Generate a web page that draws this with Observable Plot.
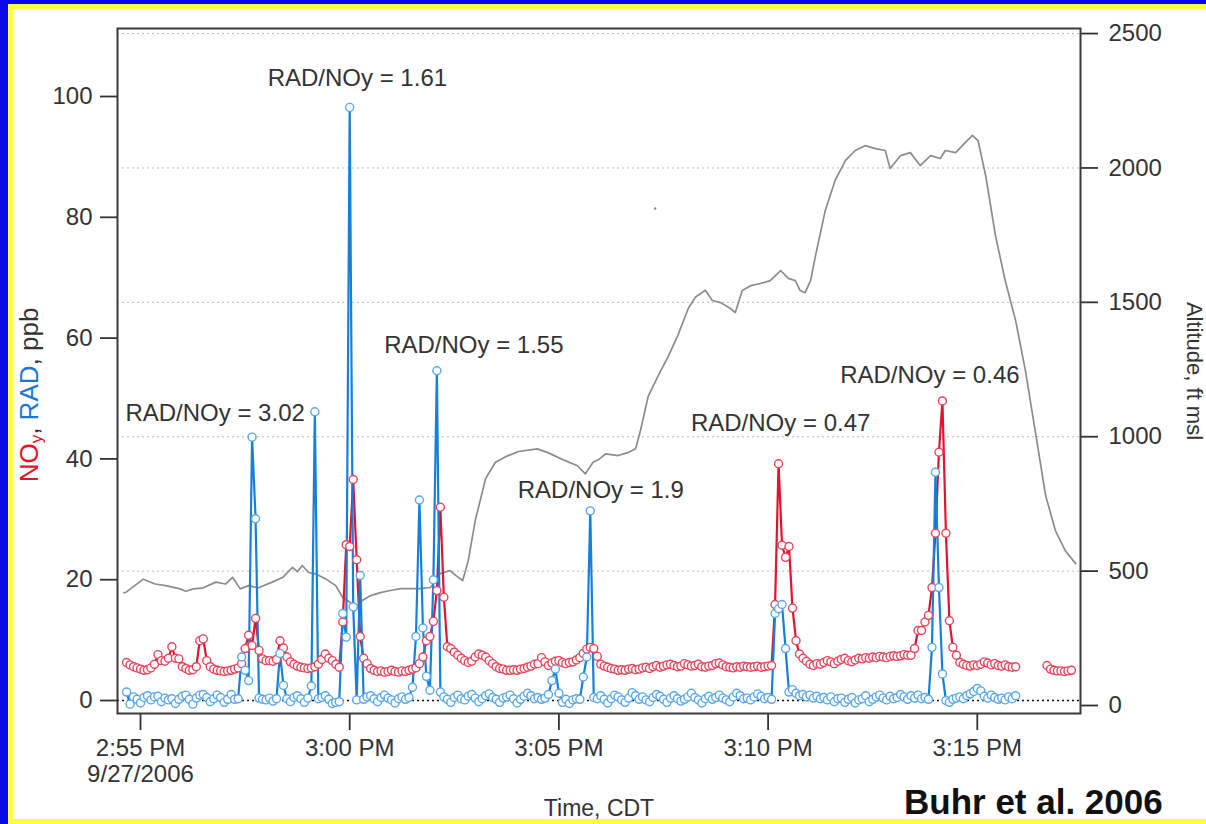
<!DOCTYPE html>
<html>
<head>
<meta charset="utf-8">
<script src="https://cdn.jsdelivr.net/npm/d3@7"></script>
<script src="https://cdn.jsdelivr.net/npm/@observablehq/plot@0.6"></script>
<style>
  html, body { margin: 0; padding: 0; }
  body {
    width: 1206px; height: 824px; overflow: hidden; position: relative;
    background: #0a0ae6;
    font-family: "Liberation Sans", Arial, sans-serif;
  }
  #panel {
    position: absolute; left: 8px; top: 4px; width: 1198px; height: 820px;
    box-sizing: border-box; background: #fff;
    border: 5px solid #ffff3c; border-right: none;
  }
  #chart { position: absolute; left: 0; top: 0; }
  #ylab {
    position: absolute; left: 30px; top: 395px; white-space: nowrap;
    transform: translate(-50%, -50%) rotate(-90deg);
    font-size: 26px; color: #333;
  }
  #ylab .noy { color: #e8102c; }
  #ylab .rad { color: #1a78d2; }
  #ylab sub { font-size: 17px; vertical-align: -4px; }
  #credit {
    position: absolute; left: 904px; top: 782px; white-space: nowrap;
    font-weight: bold; font-size: 35px; color: #111;
  }
</style>
</head>
<body>
<div id="panel"></div>
<div id="chart"></div>
<div id="ylab"><span class="noy">NO<sub>y</sub></span>, <span class="rad">RAD</span>, ppb</div>
<div id="credit">Buhr et al. 2006</div>
<script>
// NOy and RAD mixing ratios (ppb), one sample every 5 s starting 2:54:40 PM CDT
const sampleStart = "2006-09-27T14:54:40Z";
const sampleStepSec = 5;

const noy = [
  6.3, 5.9, 5.6, 5.4, 5.2, 5.0, 5.1, 5.4, 6.0, 7.6,
  6.6, 6.5, 7.0, 8.9, 7.0, 6.9, 5.6, 5.3, 5.0, 5.1,
  5.6, 9.9, 10.2, 6.6, 5.6, 5.2, 5.0, 4.9, 4.8, 4.9,
  5.0, 5.2, 5.4, 6.1, 8.6, 10.8, 9.1, 13.6, 8.3, 6.9,
  6.6, 6.6, 6.5, 6.8, 9.9, 8.7, 7.2, 6.4, 6.0, 5.7,
  5.5, 5.4, 5.3, 5.4, 5.6, 6.0, 6.8, 7.7, 7.0, 6.6,
  6.0, 5.5, 13.0, 25.8, 25.5, 36.6, 23.3, 10.6, 7.0, 6.1,
  5.3, 5.0, 4.8, 4.9, 4.7, 4.8, 5.0, 4.8, 4.7, 4.9,
  4.8, 5.0, 5.2, 5.4, 6.1, 7.2, 9.9, 10.6, 13.1, 18.2,
  32.0, 17.1, 8.9, 8.6, 8.0, 7.5, 7.0, 6.6, 6.3, 6.5,
  7.2, 7.7, 7.5, 7.2, 6.6, 6.1, 5.6, 5.3, 5.2, 5.0,
  5.0, 5.1, 5.0, 5.2, 5.3, 5.5, 5.7, 6.0, 6.1, 7.1,
  6.4, 5.8, 6.2, 6.5, 6.6, 6.3, 6.1, 6.3, 6.4, 6.7,
  7.1, 7.8, 8.5, 8.8, 8.6, 7.3, 6.0, 5.7, 5.5, 5.3,
  5.2, 5.0, 5.1, 5.0, 5.2, 5.3, 5.1, 5.2, 5.4, 5.5,
  5.3, 5.6, 5.8, 5.5, 5.7, 5.9, 6.0, 5.8, 5.6, 5.7,
  6.1, 5.9, 5.7, 5.8, 6.0, 5.6, 5.5, 5.7, 5.8, 6.1,
  6.2, 5.9, 5.6, 5.5, 5.4, 5.6, 5.5, 5.7, 5.6, 5.5,
  5.6, 5.7, 5.5, 5.6, 5.7, 5.8, 15.9, 39.2, 25.7, 23.7,
  25.5, 15.3, 9.9, 7.7, 7.0, 6.5, 6.0, 5.8, 6.1, 6.0,
  6.3, 6.6, 6.4, 6.1, 6.5, 6.8, 7.0, 6.6, 6.4, 6.7,
  7.0, 6.9, 7.1, 7.0, 7.2, 7.1, 7.3, 7.2, 7.1, 7.3,
  7.4, 7.3, 7.4, 7.6, 7.5, 7.5, 8.6, 11.6, 11.6, 13.0,
  14.1, 18.7, 27.7, 41.1, 49.6, 27.7, 13.2, 8.8, 7.5, 6.3,
  6.0, 5.8, 5.7, 5.9, 5.8, 6.0, 6.4, 6.2, 5.9, 6.1,
  5.8, 5.7, 5.9, 5.6, 5.5, 5.6, null, null, null, null,
  null, null, null, null, 5.8, 5.2, 5.0, 4.9, 4.9, 4.8,
  4.9, 5.0
];

const rad = [
  1.4, -0.6, 0.6, 0.2, -0.4, 0.5, 0.8, 0.1, 0.6, 0.7,
  -0.2, 0.4, 0.1, 0.3, -0.5, 0.2, 0.7, 0.9, 0.2, -0.6,
  0.4, 0.9, 1.0, 0.5, -0.2, 0.3, 0.9, 0.5, -0.3, 0.2,
  1.0, 0.2, 0.3, 7.2, 5.0, 3.3, 43.6, 30.1, 0.4, 0.2,
  0.1, 0.4, -0.1, 0.3, 7.8, 2.5, 0.3, -0.2, 0.5, 0.8,
  0.3, -0.3, 0.4, 2.4, 47.8, 0.3, 0.5, 0.8, 0.2, -0.5,
  -0.3, -0.2, 14.4, 10.5, 98.2, 15.5, 0.1, 20.7, 0.2, 0.6,
  0.8, 0.3, -0.2, 0.5, 0.9, 0.4, 0.1, -0.4, 0.3, 0.6,
  0.2, 0.5, 2.2, 10.6, 33.2, 12.0, 4.0, 1.7, 20.0, 54.6,
  1.4, 0.6, 0.2, -0.3, 0.5, 0.9, 0.3, 0.1, 0.7, 1.0,
  0.4, -0.2, 0.3, 0.8, 1.1, 0.5, 0.2, -0.3, 0.4, 0.6,
  0.9, 0.3, -0.4, 0.2, 0.7, 1.2, 0.8, 0.3, 0.5, 0.2,
  0.4, 1.0, 3.3, 5.2, 1.2, -0.3, 0.2, -0.5, 0.1, 0.3,
  0.2, 3.9, 7.2, 31.4, 0.5, 0.3, 0.8, 0.2, -0.4, 0.3,
  0.9, 0.6, 0.1, -0.3, 0.4, 1.3, 0.8, 0.2, 0.6, 0.1,
  -0.2, 0.5, 1.0, 0.7, 0.2, -0.3, 0.4, 0.8, 0.3, -0.1,
  0.2, 0.6, 1.2, 0.5, 0.1, -0.4, 0.3, 0.7, 0.2, 0.5,
  0.9, 0.4, 0.1, -0.2, 0.6, 1.2, 0.8, 0.3, 0.4, 0.1,
  0.6, 1.1, 0.7, 0.3, 0.5, 0.2, 14.4, 15.2, 15.9, 8.6,
  1.4, 1.8, 1.2, 0.8, 1.0, 0.6, 0.9, 0.4, 0.7, 0.3,
  0.5, 0.1, 0.6, -0.2, 0.3, 0.4, -0.3, 0.2, 0.5, -0.4,
  0.1, 0.3, 0.8, -0.2, 0.2, 0.6, 0.9, 0.4, 0.1, 0.7,
  0.3, 0.5, 1.0, 0.6, 0.2, 0.8, 0.4, 0.9, 0.3, 0.5,
  0.2, 8.8, 37.8, 18.7, 4.4, 0.0, -0.3, 0.2, 0.4, 0.6,
  0.3, 0.8, 1.1, 1.5, 2.0, 1.6, 0.7, 0.4, 0.9, 0.5,
  0.2, 0.4, 0.1, 0.6, 0.3, 0.8
];

// Aircraft altitude (ft msl); times in seconds after 2:55:00 PM CDT
const altSec = [
  -24, -21, 4, 21, 36, 57, 65, 76, 90, 108, 122, 132, 143, 155, 169, 189, 204, 218, 225, 232,
  241, 251, 265, 280, 290, 301, 308, 318, 330, 344, 358, 373, 387, 401, 416, 423, 430, 444, 452, 462,
  470, 480, 495, 509, 523, 542, 569, 585, 609, 626, 638, 649, 657, 667, 685, 700, 710, 717, 728, 743,
  757, 771, 786, 796, 810, 820, 832, 846, 853, 863, 875, 889, 903, 918, 929, 939, 946, 953, 961, 968,
  982, 996, 1011, 1025, 1039, 1054, 1068, 1075, 1090, 1104, 1118, 1133, 1147, 1154, 1169, 1183, 1193, 1201, 1212, 1226,
  1240, 1255, 1269, 1283, 1298, 1312, 1326, 1341
];
const altFt = [
  420, 421, 470, 452, 446, 434, 425, 434, 438, 459, 452, 477, 434, 446, 438, 459, 477, 514, 498, 521,
  495, 490, 472, 446, 402, 383, 353, 391, 409, 420, 428, 435, 435, 435, 439, 465, 491, 502, 484, 465,
  539, 688, 845, 905, 925, 945, 955, 940, 911, 893, 862, 905, 915, 936, 930, 942, 955, 1023, 1150, 1230,
  1300, 1380, 1480, 1520, 1545, 1507, 1499, 1477, 1462, 1544, 1562, 1570, 1581, 1618, 1589, 1581, 1544, 1536, 1581, 1674,
  1842, 1953, 2028, 2065, 2083, 2072, 2065, 1998, 2046, 2057, 2009, 2046, 2035, 2065, 2057, 2095, 2121, 2102, 1972, 1749,
  1581, 1432, 1246, 1023, 781, 651, 577, 528
];
// a single isolated altitude reading
const altSpikeSec = [738];
const altSpikeFt = [1849];

// RAD/NOy ratio annotations: value, time (s after 2:55 PM), height (ppb)
const ratioValues = ["3.02", "1.61", "1.55", "1.9", "0.47", "0.46"];
const ratioSec = [107, 311, 478, 660, 918, 1132];
const ratioPpb = [47.5, 103, 58.8, 34.8, 45.9, 53.8];

// axes
const leftTicks = [0, 20, 40, 60, 80, 100];
const altTicks = [0, 500, 1000, 1500, 2000, 2500];
const timeTickSec = [0, 300, 600, 900, 1200];
const timeTickLabels = ["2:55 PM\n9/27/2006", "3:00 PM", "3:05 PM", "3:10 PM", "3:15 PM"];

// ------------------------------------------------------------------
const ref = Date.parse("2006-09-27T14:55:00Z");
const at = s => new Date(ref + s * 1000);
const t0 = Date.parse(sampleStart);

// the right-hand altitude axis shares the plot with the ppb axis
const ppbPerFt = 0.04450;
const ppbAtZeroFt = -0.828;
const ftToPpb = ft => ft * ppbPerFt + ppbAtZeroFt;
const ppbToFt = v => (v - ppbAtZeroFt) / ppbPerFt;

const noyRows = noy.map((v, i) => ({time: new Date(t0 + i * sampleStepSec * 1000), value: v}));
const radRows = rad.map((v, i) => ({time: new Date(t0 + i * sampleStepSec * 1000), value: v}));
const altRows = altSec.map((s, i) => ({time: at(s), ppb: ftToPpb(altFt[i])}));
const spikeRows = altSpikeSec.map((s, i) => ({time: at(s), ppb: ftToPpb(altSpikeFt[i])}));
const notes = ratioValues.map((r, i) => ({time: at(ratioSec[i]), ppb: ratioPpb[i], text: `RAD/NOy = ${r}`}));
const tickLabelByTime = new Map(timeTickSec.map((s, i) => [+at(s), timeTickLabels[i]]));

const RED = "#e3122e", RED_DOT = "#e8455c";
const BLUE = "#1580dc", BLUE_DOT = "#5aa8ea";
const INK = "#333";
const FONT = 24;

const chart = Plot.plot({
  width: 1206,
  height: 824,
  marginLeft: 117,
  marginRight: 126,
  marginTop: 28,
  marginBottom: 111,
  style: {background: "transparent", color: INK, fontFamily: "Liberation Sans, Arial, sans-serif", overflow: "visible"},
  x: {type: "utc", domain: [at(-33), at(1348)]},
  y: {domain: [-2.15, 111.26]},
  marks: [
    // dotted altitude grid and the ppb zero line
    Plot.ruleY(altTicks.slice(1).map(ftToPpb), {stroke: "#bdbdbd", strokeDasharray: "2,3", strokeWidth: 1}),
    Plot.ruleY([0], {stroke: "#111", strokeDasharray: "2,3", strokeWidth: 1.6}),

    // altitude trace
    Plot.line(altRows, {x: "time", y: "ppb", stroke: "#8c8c8c", strokeWidth: 1.7}),
    Plot.dot(spikeRows, {x: "time", y: "ppb", r: 1.2, fill: "#8c8c8c"}),

    // NOy and RAD traces with open markers
    Plot.line(noyRows, {x: "time", y: "value", stroke: RED, strokeWidth: 2.2}),
    Plot.line(radRows, {x: "time", y: "value", stroke: BLUE, strokeWidth: 2.2}),
    Plot.dot(noyRows, {x: "time", y: "value", r: 4, fill: "white", stroke: RED_DOT, strokeWidth: 1.4}),
    Plot.dot(radRows, {x: "time", y: "value", r: 4, fill: "white", stroke: BLUE_DOT, strokeWidth: 1.4}),

    // ratio annotations
    Plot.text(notes, {x: "time", y: "ppb", text: "text", fontSize: FONT, fill: INK}),

    // axes
    Plot.axisY(leftTicks, {anchor: "left", tickSize: 17, tickPadding: 8, fontSize: FONT, strokeWidth: 1.8, label: null}),
    Plot.axisY(altTicks.map(ftToPpb), {
      anchor: "right", tickSize: 17, tickPadding: 11, fontSize: FONT, strokeWidth: 1.8, label: null,
      tickFormat: v => String(Math.round(ppbToFt(v) / 100) * 100)
    }),
    Plot.axisX(timeTickSec.map(at), {
      anchor: "bottom", tickSize: 17, tickPadding: 6, fontSize: FONT, strokeWidth: 1.8, label: null,
      lineHeight: 1.12, tickFormat: d => tickLabelByTime.get(+d)
    }),
    Plot.frame({stroke: "#3a3a3a", strokeWidth: 2}),

    // axis titles
    Plot.text(["Time, CDT"], {frameAnchor: "bottom", dy: 102, fontSize: 23, fill: INK}),
    Plot.text(["Altitude, ft msl"], {frameAnchor: "right", dx: 114, rotate: 90, textAnchor: "middle", fontSize: 22, fill: INK})
  ]
});

document.getElementById("chart").appendChild(chart);
</script>
</body>
</html>
